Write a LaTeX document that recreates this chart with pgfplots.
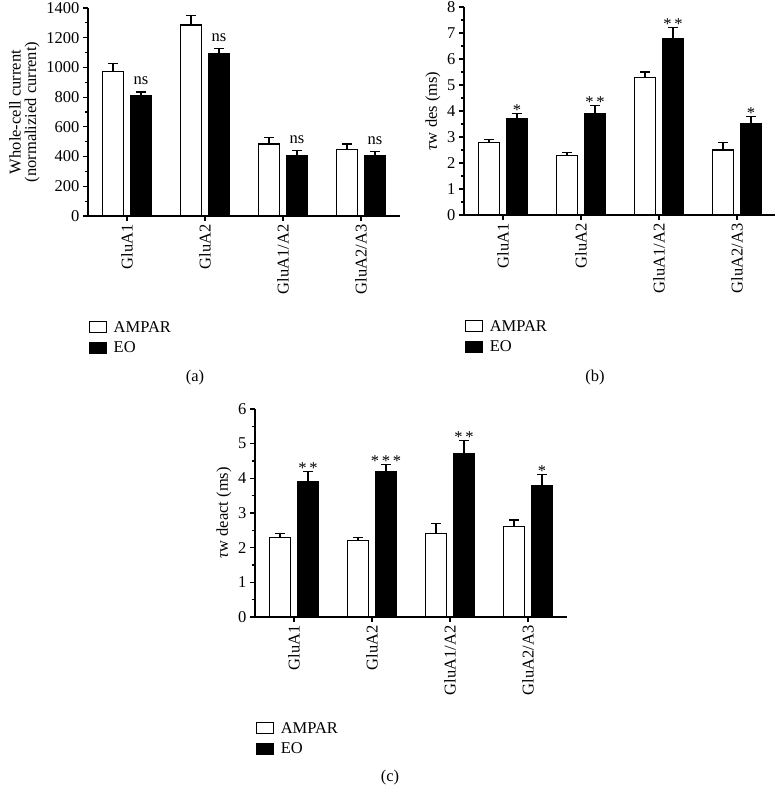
\documentclass[border=0pt]{standalone}
\usepackage{pgfplots}
\pgfplotsset{compat=1.18}
\usepackage{fontspec}
\setmainfont{Liberation Serif}
\newcommand\fs{\fontsize{16.5}{15.5}\selectfont}
\tikzset{ann/.style={anchor=base, font=\fs}}

\pgfplotsset{
 myax/.style={
  scale only axis, width=312pt, height=208pt,
  anchor=south west,
  axis x line*=bottom, axis y line*=left,
  axis line style={line width=1.2pt,-},
  xmin=-0.5, xmax=3.5, ymin=0,
  xtick={0,1,2,3}, xticklabels={GluA1,GluA2,GluA1/A2,GluA2/A3},
  x tick label style={rotate=90, anchor=east},
  tick label style={font=\fs},
  label style={font=\fs},
  minor y tick num=1,
  tick align=outside,
  major tick length=5pt, minor tick length=3pt,
  every tick/.style={line width=1.2pt, black},
  /pgf/number format/assume math mode=true,
  /pgf/number format/1000 sep={},
  legend style={at={(0,0)}, anchor=north west, yshift=-101pt, xshift=-2pt, draw=none, fill=none,
    font=\fs, row sep=4pt, legend cell align=left},
  clip=false,
 },
 AMP/.style={ybar, bar width=21pt, bar shift=0pt, draw=black, fill=white, line width=1.2pt,
   error bars/.cd, y dir=plus, y explicit, error mark=-,
   error bar style={line width=1.2pt, black},
   error mark options={rotate=90, mark size=5pt, line width=1.2pt, black},
   /pgfplots/.cd,
   legend image code/.code={\draw[draw=black,fill=white,line width=1.1pt] (0pt,-5.5pt) rectangle (17pt,5.5pt); \path[draw=none,fill=none] (17pt,0) -- (22pt,0);}},
 EOS/.style={ybar, bar width=21pt, bar shift=0pt, draw=black, fill=black, line width=1.2pt,
   error bars/.cd, y dir=plus, y explicit, error mark=-,
   error bar style={line width=1.2pt, black},
   error mark options={rotate=90, mark size=5pt, line width=1.2pt, black},
   /pgfplots/.cd,
   legend image code/.code={\draw[draw=black,fill=black,line width=1.1pt] (0pt,-5.5pt) rectangle (17pt,5.5pt); \path[draw=none,fill=none] (17pt,0) -- (22pt,0);}},
}

\begin{document}
\begin{tikzpicture}
\path[use as bounding box] (0,0) rectangle (775pt,-790pt);

% (a)
\begin{axis}[myax, at={(88pt,-216pt)}, ymax=1400, ytick={0,200,...,1400},
  ylabel={Whole-cell current\\(normalizied current)}, ylabel style={align=center}]
\addplot[AMP] coordinates {(-0.18,970) +- (0,55) (0.82,1285) +- (0,65) (1.82,485) +- (0,45) (2.82,450) +- (0,35)};
\addplot[EOS] coordinates {(0.18,810) +- (0,25) (1.18,1090) +- (0,40) (2.18,405) +- (0,35) (3.18,405) +- (0,30)};
\legend{AMPAR,EO}
\node[ann, yshift=7pt] at (axis cs:0.18,835) {ns};
\node[ann, yshift=7pt] at (axis cs:1.18,1130) {ns};
\node[ann, yshift=7pt] at (axis cs:2.18,440) {ns};
\node[ann, yshift=7pt] at (axis cs:3.18,435) {ns};
\end{axis}

% (b)
\begin{axis}[myax, at={(464pt,-215pt)}, ymax=8, ytick={0,1,...,8},
  ylabel={\textit{τ}w des (ms)}]
\addplot[AMP] coordinates {(-0.18,2.8) +- (0,0.1) (0.82,2.3) +- (0,0.1) (1.82,5.3) +- (0,0.2) (2.82,2.5) +- (0,0.3)};
\addplot[EOS] coordinates {(0.18,3.7) +- (0,0.2) (1.18,3.9) +- (0,0.3) (2.18,6.8) +- (0,0.4) (3.18,3.5) +- (0,0.3)};
\legend{AMPAR,EO}
\node[ann, yshift=-2pt] at (axis cs:0.18,3.9) {*};
\node[ann, yshift=-2pt] at (axis cs:1.18,4.2) {*\,*};
\node[ann, yshift=-2pt] at (axis cs:2.18,7.2) {*\,*};
\node[ann, yshift=-2pt] at (axis cs:3.18,3.8) {*};
\end{axis}

% (c)
\begin{axis}[myax, at={(255pt,-617pt)}, ymax=6, ytick={0,1,...,6},
  ylabel={\textit{τ}w deact (ms)}]
\addplot[AMP] coordinates {(-0.18,2.3) +- (0,0.1) (0.82,2.2) +- (0,0.1) (1.82,2.4) +- (0,0.3) (2.82,2.6) +- (0,0.2)};
\addplot[EOS] coordinates {(0.18,3.9) +- (0,0.3) (1.18,4.2) +- (0,0.2) (2.18,4.7) +- (0,0.4) (3.18,3.8) +- (0,0.3)};
\legend{AMPAR,EO}
\node[ann, yshift=-2pt] at (axis cs:0.18,4.2) {*\,*};
\node[ann, yshift=-2pt] at (axis cs:1.18,4.4) {*\,*\,*};
\node[ann, yshift=-2pt] at (axis cs:2.18,5.1) {*\,*};
\node[ann, yshift=-2pt] at (axis cs:3.18,4.1) {*};
\end{axis}

\node[font=\fs] at (195pt,-378pt) {(a)};
\node[font=\fs] at (595pt,-378pt) {(b)};
\node[font=\fs] at (390pt,-778pt) {(c)};
\end{tikzpicture}
\end{document}
